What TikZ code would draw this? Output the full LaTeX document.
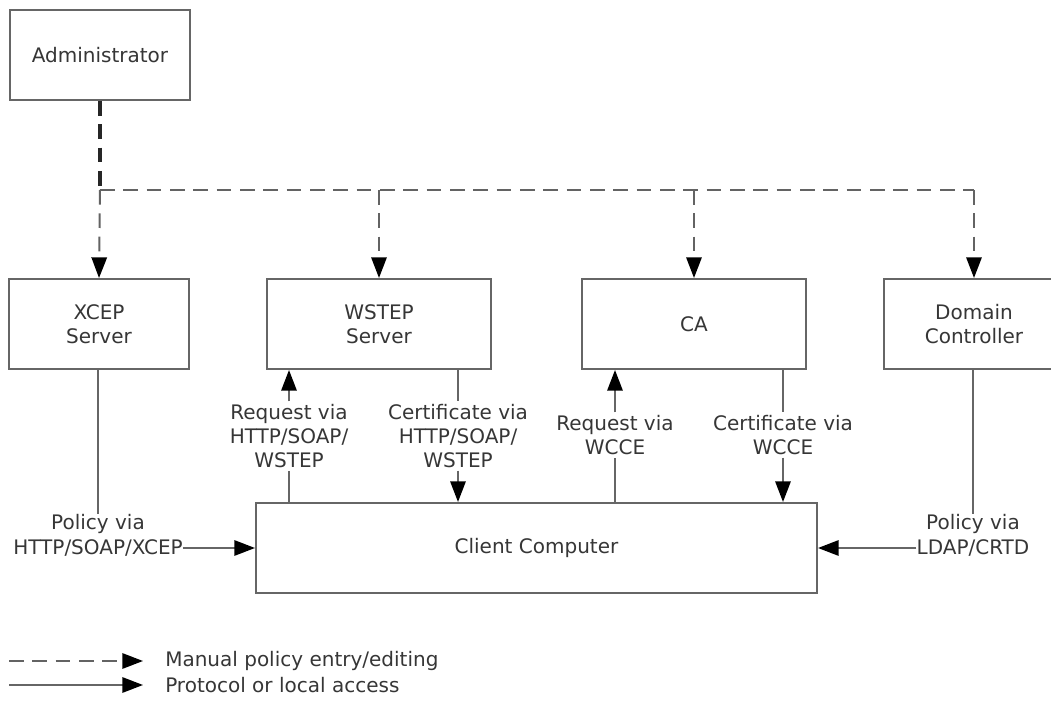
\documentclass[tikz,border=0pt]{standalone}
\usepackage{fontspec}
\setmainfont{DejaVu Sans}
\usetikzlibrary{arrows.meta}
\definecolor{boxgray}{HTML}{666666}
\definecolor{txtgray}{HTML}{363636}
\definecolor{dashgray}{HTML}{636363}
\begin{document}
\begin{tikzpicture}[x=0.75pt,y=-0.75pt,
  box/.style={draw=boxgray, line width=1.5pt, fill=white, inner sep=0pt,
    text=txtgray, align=center, font=\fontsize{15}{18}\selectfont},
  lbl/.style={text=txtgray, font=\fontsize{15}{18}\selectfont, align=center, inner sep=2pt},
  tip/.style={-{Triangle[length=15.5pt,width=11.5pt,color=black]}},
  conn/.style={draw=boxgray, line width=1.5pt},
  dashline/.style={draw=dashgray, line width=1.5pt, dash pattern=on 11pt off 6.5pt},
  dashthick/.style={draw=black!85, line width=2.3pt, dash pattern=on 11pt off 6.5pt}]
\useasboundingbox (0,0) rectangle (1051,702);

% boxes
\node[box, minimum width=135pt, minimum height=67.5pt] (admin) at (100,55) {Administrator};
\node[box, minimum width=135pt, minimum height=67.5pt] (xcep) at (99,324) {XCEP\\Server};
\node[box, minimum width=168pt, minimum height=67.5pt] (wstep) at (379,324) {WSTEP\\Server};
\node[box, minimum width=168pt, minimum height=67.5pt] (ca) at (694,324) {CA};
\node[box, minimum width=135pt, minimum height=67.5pt] (dc) at (974,324) {Domain\\Controller};
\node[box, minimum width=420.75pt, minimum height=67.5pt] (client) at (536.5,548) {Client Computer};

% manual policy (dashed)
\coordinate (bus) at (100,190);
\draw[dashthick] (admin.south) -- (bus);
\draw[dashline] (bus) -- (bus -| dc.north);
\draw[dashline, tip] (bus) -- (xcep.north);
\draw[dashline, tip] (bus -| wstep.north) -- (wstep.north);
\draw[dashline, tip] (bus -| ca.north) -- (ca.north);
\draw[dashline, tip] (bus -| dc.north) -- (dc.north);

% WSTEP labels
\node[lbl] (reqw) at (289,436) {Request via\\HTTP/SOAP/\\WSTEP};
\node[lbl] (certw) at (458,436) {Certificate via\\HTTP/SOAP/\\WSTEP};
\draw[conn] (client.north -| reqw.south) -- (reqw.south);
\draw[conn, tip] (reqw.north) -- (wstep.south -| reqw.north);
\draw[conn] (wstep.south -| certw.north) -- (certw.north);
\draw[conn, tip] (certw.south) -- (client.north -| certw.south);

% WCCE labels
\node[lbl] (reqc) at (615,435) {Request via\\WCCE};
\node[lbl] (certc) at (783,435) {Certificate via\\WCCE};
\draw[conn] (client.north -| reqc.south) -- (reqc.south);
\draw[conn, tip] (reqc.north) -- (ca.south -| reqc.north);
\draw[conn] (ca.south -| certc.north) -- (certc.north);
\draw[conn, tip] (certc.south) -- (client.north -| certc.south);

% policy labels
\node[lbl, inner sep=0pt] (px1) at (98,524) {Policy via};
\node[lbl, inner sep=0pt] (px2) at (98,548) {HTTP/SOAP/XCEP};
\draw[conn] (xcep.south -| px1.north) -- (px1.north);
\draw[conn, tip] (px2.east) -- (client.west |- px2.east);

\node[lbl, inner sep=0pt] (pd1) at (973,524) {Policy via};
\node[lbl, inner sep=0pt] (pd2) at (973,548) {LDAP/CRTD};
\draw[conn] (dc.south -| pd1.north) -- (pd1.north);
\draw[conn, tip] (pd2.west) -- (client.east |- pd2.west);

% legend
\coordinate (l1a) at (9,661);
\coordinate (l1b) at (143,661);
\coordinate (l2a) at (9,685);
\coordinate (l2b) at (143,685);
\draw[dashline, tip] (l1a) -- (l1b);
\draw[conn, tip] (l2a) -- (l2b);
\node[lbl, anchor=west, inner sep=0pt] (leg1) at (165,661) {Manual policy entry/editing};
\node[lbl, anchor=west, inner sep=0pt] (leg2) at (165,685) {Protocol or local access};
\end{tikzpicture}
\end{document}
